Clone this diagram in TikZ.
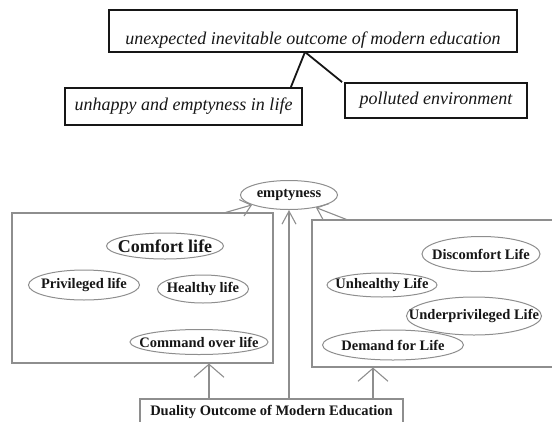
\documentclass[tikz,border=0pt]{standalone}
\usepackage{fontspec}
\setmainfont{Liberation Serif}
\usetikzlibrary{arrows.meta,shapes.geometric}
\definecolor{ink}{HTML}{161616}
\definecolor{frame}{HTML}{8E8E8E}
\newcommand{\topfont}{\fontsize{18}{21}\selectfont\itshape}
\newcommand{\lowfont}{\fontsize{14.5}{17}\selectfont\bfseries}
\newcommand{\narrow}[1]{\makebox[0pt]{#1}}
\tikzset{
 every node/.append style={text=ink,align=center},
 heavy/.style={draw=ink,line width=2.8pt,inner sep=0pt,font=\topfont},
 outbox/.style={draw=ink,line width=1.8pt,inner sep=0pt,font=\topfont},
 link/.style={draw=ink,line width=1.8pt},
 panel/.style={draw=frame,line width=1.1pt,inner sep=0pt},
 bubble/.style={ellipse,draw=frame,line width=1pt,inner sep=0pt,font=\lowfont},
 label/.style={draw=frame,line width=1.1pt,inner sep=0pt,font=\lowfont},
 rise/.style={-{Straight Barb[length=13pt,width=30pt]},draw=frame,line width=1.1pt},
 lift/.style={-{Straight Barb[length=13pt,width=14pt]},draw=frame,line width=1.1pt},
 tilt/.style={-{Straight Barb[length=10pt,width=17pt]},draw=frame,line width=1.1pt},
}

\begin{document}
\begin{tikzpicture}[x=1pt,y=-1pt]
\useasboundingbox (0,0) rectangle (552,421);

% upper part
\node[heavy,minimum width=408pt,minimum height=42pt,text height=29pt,text depth=3pt] (outcome) at (313,31)
  {unexpected inevitable outcome of modern education};
\node[outbox,minimum width=237pt,minimum height=37pt] (unhappy) at (183.5,106.5)
  {unhappy and emptyness in life};
\node[outbox,minimum width=182pt,minimum height=35pt] (polluted) at (436,100.5)
  {polluted environment};
\coordinate (split) at (305,52);
\draw[link] (split) -- ([xshift=-12pt]unhappy.north east);
\draw[link] (split) -- ([xshift=-2pt]polluted.north west);

% lower part
\node[bubble,minimum width=97pt,minimum height=29pt] (emptyness) at (289,195) {\narrow{emptyness}};

\node[panel,minimum width=261pt,minimum height=150pt] (bright) at (142.5,288) {};
\node[panel,minimum width=246pt,minimum height=147pt] (dark) at (435,293.5) {};

\node[bubble,minimum width=117pt,minimum height=26pt,font=\fontsize{18}{21}\selectfont\bfseries] (comfort) at (165,246) {\narrow{Comfort life}};
\node[bubble,minimum width=111pt,minimum height=30pt] (privileged) at (84,285) {\narrow{Privileged life}};
\node[bubble,minimum width=91pt,minimum height=28pt] (healthy) at (203,289) {\narrow{Healthy life}};
\node[bubble,minimum width=138pt,minimum height=25pt] (command) at (199,342) {\narrow{Command over life}};

\node[bubble,minimum width=118pt,minimum height=35pt] (discomfort) at (481,254) {\narrow{Discomfort Life}};
\node[bubble,minimum width=110pt,minimum height=24pt] (unhealthy) at (382,285) {\narrow{Unhealthy Life}};
\node[bubble,minimum width=135pt,minimum height=38pt] (underprivileged) at (474,316) {\narrow{Underprivileged Life}};
\node[bubble,minimum width=141pt,minimum height=30pt] (demand) at (393,345) {\narrow{Demand for Life}};

\node[label,minimum width=263pt,minimum height=26pt] (duality) at (271.5,412)
  {Duality Outcome of Modern Education};

\draw[rise] ([xshift=-62.5pt]duality.north) -- ([xshift=-62.5pt]duality.north |- bright.south);
\draw[lift] (emptyness.south |- duality.north) -- (emptyness.south);
\draw[rise] ([xshift=101.5pt]duality.north) -- ([xshift=101.5pt]duality.north |- dark.south);
\draw[tilt] ([xshift=-48pt]bright.north east) -- (emptyness.195);
\draw[tilt] ([xshift=35pt]dark.north west) -- (emptyness.335);
\end{tikzpicture}
\end{document}
